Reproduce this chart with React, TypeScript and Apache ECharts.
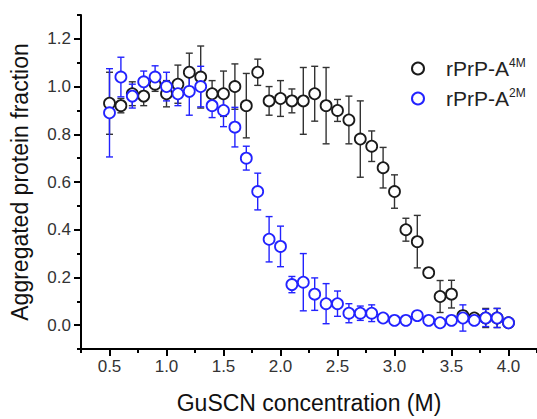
import React, { useEffect, useRef } from 'react';
import * as echarts from 'echarts';

// GuSCN concentration (M)
const concentrations = [
  0.5, 0.6, 0.7, 0.8, 0.9, 1.0, 1.1, 1.2, 1.3, 1.4, 1.5, 1.6,
  1.7, 1.8, 1.9, 2.0, 2.1, 2.2, 2.3, 2.4, 2.5, 2.6, 2.7, 2.8,
  2.9, 3.0, 3.1, 3.2, 3.3, 3.4, 3.5, 3.6, 3.7, 3.8, 3.9, 4.0,
];

// rPrP-A 4M
const a4mValues = [
  0.93, 0.92, 0.97, 0.96, 1.01, 0.97, 1.01, 1.06, 1.04, 0.97, 0.97, 1.0,
  0.92, 1.06, 0.94, 0.95, 0.94, 0.94, 0.97, 0.92, 0.9, 0.86, 0.78, 0.75,
  0.66, 0.56, 0.4, 0.35, 0.22, 0.12, 0.13, 0.04, 0.03, 0.03, 0.03, 0.01,
];
const a4mErrors = [
  0.13, 0.03, 0.05, 0.04, 0.03, 0.055, 0.08, 0.08, 0.13, 0.055, 0.095, 0.095,
  0.135, 0.055, 0.06, 0.075, 0.05, 0.14, 0.115, 0.16, 0.046, 0.1, 0.16, 0.064,
  0.085, 0.07, 0.048, 0.11, 0.008, 0.067, 0.058, 0.02, 0.015, 0.04, 0.04, 0.015,
];

// rPrP-A 2M
const a2mValues = [
  0.89, 1.04, 0.96, 1.02, 1.04, 1.0, 0.97, 0.98, 1.0, 0.92, 0.9, 0.83,
  0.7, 0.56, 0.36, 0.33, 0.17, 0.18, 0.13, 0.09, 0.09, 0.05, 0.05, 0.05,
  0.03, 0.02, 0.02, 0.04, 0.02, 0.01, 0.02, 0.03, 0.02, 0.03, 0.03, 0.01,
];
const a2mErrors = [
  0.185, 0.083, 0.05, 0.045, 0.047, 0.06, 0.05, 0.1, 0.085, 0.05, 0.068, 0.083,
  0.05, 0.077, 0.095, 0.085, 0.034, 0.12, 0.068, 0.084, 0.053, 0.04, 0.03, 0.035,
  0.01, 0.01, 0.01, 0.01, 0.01, 0.01, 0.01, 0.055, 0.015, 0.036, 0.04, 0.01,
];

const seriesNames = ['rPrP-A4M', 'rPrP-A2M'];
const legendBase = ['rPrP-A', 'rPrP-A'];
const legendSup = ['4M', '2M'];

const xMajorTicks = [0.5, 1.0, 1.5, 2.0, 2.5, 3.0, 3.5, 4.0];
const xMinorTicks = [0.25, 0.75, 1.25, 1.75, 2.25, 2.75, 3.25, 3.75, 4.25];
const yMajorTicks = [0, 0.2, 0.4, 0.6, 0.8, 1.0, 1.2];
const yMinorTicks = [-0.1, 0.1, 0.3, 0.5, 0.7, 0.9, 1.1, 1.3];

const BLACK = '#1a1a1a';
const BLUE = '#2323ff';
const FONT = '"Liberation Sans", Arial, Helvetica, sans-serif';

function errorSeries(values: number[], errors: number[], color: string) {
  return {
    type: 'custom',
    silent: true,
    xAxisIndex: 0,
    yAxisIndex: 0,
    encode: { x: 0, y: [1, 2] },
    data: concentrations.map((c, i) => [c, values[i] - errors[i], values[i] + errors[i]]),
    renderItem: (params: any, api: any) => {
      const x = api.value(0);
      const lo = api.coord([x, api.value(1)]);
      const hi = api.coord([x, api.value(2)]);
      const cap = 3.5;
      const style = { stroke: color, lineWidth: 1.4 };
      return {
        type: 'group',
        children: [
          { type: 'line', shape: { x1: lo[0], y1: lo[1], x2: hi[0], y2: hi[1] }, style },
          { type: 'line', shape: { x1: hi[0] - cap, y1: hi[1], x2: hi[0] + cap, y2: hi[1] }, style },
          { type: 'line', shape: { x1: lo[0] - cap, y1: lo[1], x2: lo[0] + cap, y2: lo[1] }, style },
        ],
      };
    },
  };
}

function scatterSeries(name: string, values: number[], color: string) {
  return {
    type: 'scatter',
    name,
    xAxisIndex: 0,
    yAxisIndex: 0,
    symbol: 'circle',
    symbolSize: 11,
    itemStyle: { color: '#ffffff', borderColor: color, borderWidth: 1.8, opacity: 1 },
    data: concentrations.map((c, i) => [c, values[i]]),
  };
}

export default function App() {
  const ref = useRef<HTMLDivElement>(null);

  useEffect(() => {
    document.body.style.margin = '0';
    if (!ref.current) return;
    const chart = echarts.init(ref.current, undefined, { renderer: 'svg' });

    const axisLabelStyle = { color: '#333', fontSize: 17, fontFamily: FONT };

    chart.setOption({
      animation: false,
      backgroundColor: '#ffffff',
      grid: { left: 81, top: 15, width: 456, height: 336, containLabel: false },
      legend: {
        orient: 'vertical',
        left: 406,
        top: 52,
        itemWidth: 46,
        itemHeight: 12,
        itemGap: 8,
        data: seriesNames,
        formatter: (name: string) => {
          const i = seriesNames.indexOf(name);
          return `{a|${legendBase[i]}}{s|${legendSup[i]}}`;
        },
        textStyle: {
          fontFamily: FONT,
          color: '#222',
          rich: {
            a: { fontSize: 21, lineHeight: 23, fontFamily: FONT, color: '#222' },
            s: { fontSize: 12, lineHeight: 23, verticalAlign: 'top', fontFamily: FONT, color: '#222' },
          },
        },
      },
      xAxis: [
        {
          type: 'value',
          position: 'bottom',
          min: 0.25,
          max: 4.25,
          name: 'GuSCN concentration (M)',
          nameLocation: 'middle',
          nameGap: 42,
          nameTextStyle: { fontSize: 23, color: '#111', fontFamily: FONT },
          axisLine: { show: true, onZero: false, lineStyle: { color: '#000', width: 2 } },
          axisTick: { show: true, customValues: xMajorTicks, length: 7, lineStyle: { color: '#000', width: 2 } },
          axisLabel: {
            show: true,
            customValues: xMajorTicks,
            margin: 9,
            formatter: (v: number) => v.toFixed(1),
            ...axisLabelStyle,
          },
          splitLine: { show: false },
        },
        {
          type: 'value',
          position: 'bottom',
          min: 0.25,
          max: 4.25,
          axisLine: { show: false, onZero: false },
          axisTick: { show: true, customValues: xMinorTicks, length: 4, lineStyle: { color: '#000', width: 2 } },
          axisLabel: { show: false },
          splitLine: { show: false },
        },
      ],
      yAxis: [
        {
          type: 'value',
          position: 'left',
          min: -0.1,
          max: 1.3,
          name: 'Aggregated protein fraction',
          nameLocation: 'middle',
          nameGap: 50,
          nameTextStyle: { fontSize: 23, color: '#111', fontFamily: FONT },
          axisLine: { show: true, onZero: false, lineStyle: { color: '#000', width: 2 } },
          axisTick: { show: true, customValues: yMajorTicks, length: 7, lineStyle: { color: '#000', width: 2 } },
          axisLabel: {
            show: true,
            customValues: yMajorTicks,
            margin: 10,
            formatter: (v: number) => v.toFixed(1),
            ...axisLabelStyle,
          },
          splitLine: { show: false },
        },
        {
          type: 'value',
          position: 'left',
          min: -0.1,
          max: 1.3,
          axisLine: { show: false, onZero: false },
          axisTick: { show: true, customValues: yMinorTicks, length: 4, lineStyle: { color: '#000', width: 2 } },
          axisLabel: { show: false },
          splitLine: { show: false },
        },
      ],
      series: [
        errorSeries(a4mValues, a4mErrors, '#333333'),
        scatterSeries(seriesNames[0], a4mValues, BLACK),
        errorSeries(a2mValues, a2mErrors, BLUE),
        scatterSeries(seriesNames[1], a2mValues, BLUE),
      ],
    });

    return () => chart.dispose();
  }, []);

  return <div ref={ref} style={{ width: 537, height: 419 }} />;
}
